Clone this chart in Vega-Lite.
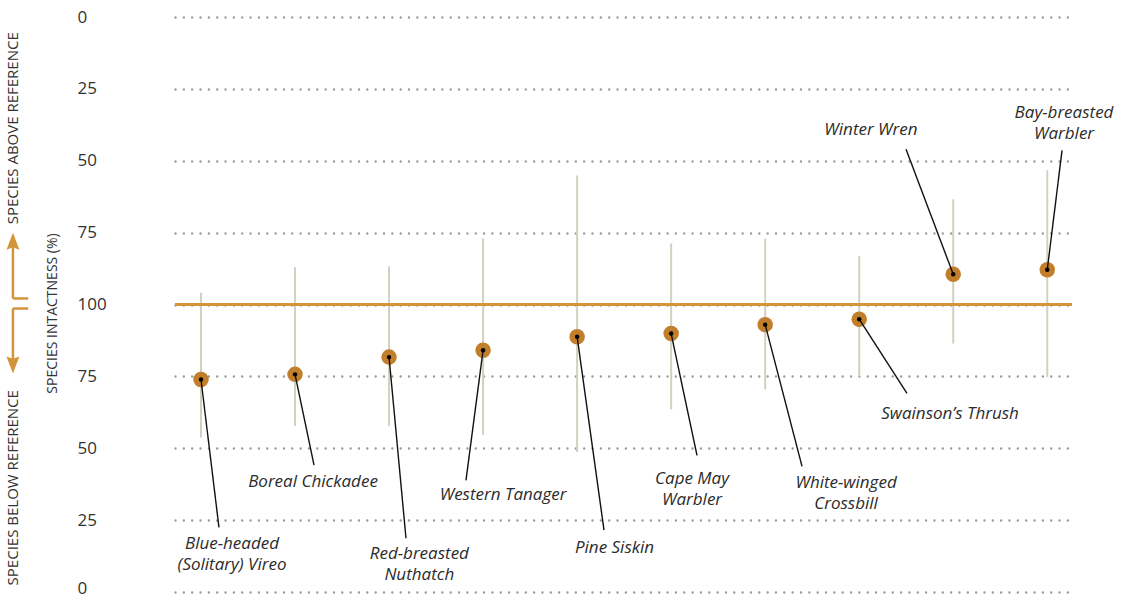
{
  "$schema": "https://vega.github.io/schema/vega-lite/v6.json",
  "width": 897,
  "height": 575,
  "autosize": {"type": "none"},
  "padding": {"left": 175, "top": 17, "right": 56, "bottom": 5},
  "background": "white",
  "config": {"view": {"stroke": null}, "font": "Open Sans"},
  "datasets": {
    "birds": [
      {"species": "Blue-headed (Solitary) Vireo", "label": "Blue-headed\n(Solitary) Vireo", "rank": 1, "intactness": 73.9, "lower": 53.7, "upper": 104.1, "lineRank": 1.191, "lineValue": 22.5, "labelRank": 1.33, "labelValue": 15.1},
      {"species": "Boreal Chickadee", "label": "Boreal Chickadee", "rank": 2, "intactness": 75.7, "lower": 57.7, "upper": 113.0, "lineRank": 2.202, "lineValue": 44.1, "labelRank": 2.191, "labelValue": 36.5},
      {"species": "Red-breasted Nuthatch", "label": "Red-breasted\nNuthatch", "rank": 3, "intactness": 81.7, "lower": 57.7, "upper": 113.3, "lineRank": 3.18, "lineValue": 18.7, "labelRank": 3.322, "labelValue": 11.6},
      {"species": "Western Tanager", "label": "Western Tanager", "rank": 4, "intactness": 84.1, "lower": 54.6, "upper": 123.0, "lineRank": 3.818, "lineValue": 38.8, "labelRank": 4.212, "labelValue": 31.9},
      {"species": "Pine Siskin", "label": "Pine Siskin", "rank": 5, "intactness": 88.8, "lower": 48.7, "upper": 144.9, "lineRank": 5.286, "lineValue": 21.5, "labelRank": 5.398, "labelValue": 13.7},
      {"species": "Cape May Warbler", "label": "Cape May\nWarbler", "rank": 6, "intactness": 89.9, "lower": 63.5, "upper": 121.2, "lineRank": 6.275, "lineValue": 47.5, "labelRank": 6.222, "labelValue": 37.7},
      {"species": "White-winged Crossbill", "label": "White-winged\nCrossbill", "rank": 7, "intactness": 93.0, "lower": 70.5, "upper": 122.9, "lineRank": 7.392, "lineValue": 43.7, "labelRank": 7.86, "labelValue": 36.1},
      {"species": "Swainson’s Thrush", "label": "Swainson’s Thrush", "rank": 8, "intactness": 94.9, "lower": 75.0, "upper": 116.9, "lineRank": 8.508, "lineValue": 69.1, "labelRank": 8.966, "labelValue": 60.3},
      {"species": "Winter Wren", "label": "Winter Wren", "rank": 9, "intactness": 110.5, "lower": 86.4, "upper": 136.6, "lineRank": 8.498, "lineValue": 154.0, "labelRank": 8.125, "labelValue": 158.9},
      {"species": "Bay-breasted Warbler", "label": "Bay-breasted\nWarbler", "rank": 10, "intactness": 112.1, "lower": 74.8, "upper": 146.7, "lineRank": 10.157, "lineValue": 153.6, "labelRank": 10.178, "labelValue": 164.7}
    ],
    "arrowStems": [
      {"rank": -1.0, "value": 102.1, "rank2": -1.0, "value2": 121.0},
      {"rank": -1.0, "value": 102.1, "rank2": -0.837, "value2": 102.1},
      {"rank": -1.0, "value": 98.6, "rank2": -1.0, "value2": 80.0},
      {"rank": -1.0, "value": 98.6, "rank2": -0.837, "value2": 98.6}
    ],
    "arrowHeads": [
      {"direction": "up", "rank": -1.0, "value": 122.0},
      {"direction": "down", "rank": -1.0, "value": 79.0}
    ],
    "sideNotes": [
      {"text": "SPECIES ABOVE REFERENCE", "rank": -1.0, "value": 127.9},
      {"text": "SPECIES BELOW REFERENCE", "rank": -1.0, "value": 2.3}
    ]
  },
  "layer": [
    {
      "data": {"name": "birds"},
      "mark": {"type": "rule", "color": "#d3d0c1", "strokeWidth": 2},
      "encoding": {
        "x": {"field": "rank", "type": "quantitative", "scale": {"domain": [0.7235, 10.263], "nice": false, "zero": false}, "axis": null},
        "y": {
          "field": "lower", "type": "quantitative",
          "scale": {"domain": [0, 200], "nice": false, "zero": false},
          "axis": {
            "values": [0, 25, 50, 75, 100, 125, 150, 175, 200],
            "labelExpr": "datum.value > 100 ? 200 - datum.value : datum.value",
            "grid": true,
            "gridColor": "#9b9b9b",
            "gridDash": [0.01, 8.33],
            "gridCap": "round",
            "gridWidth": 2.4,
            "domain": false,
            "ticks": false,
            "labelAlign": "left",
            "labelBaseline": "middle",
            "labelPadding": 98,
            "labelOffset": {"condition": {"test": "datum.value == 0", "value": -4}, "value": 0},
            "labelFont": "Open Sans",
            "labelFontSize": 17,
            "labelColor": "#333333",
            "labelBound": false,
            "title": "SPECIES INTACTNESS (%)",
            "titleFont": "Open Sans",
            "titleFontSize": 14,
            "titleFontWeight": "normal",
            "titleColor": "#333333",
            "titleAngle": -90,
            "titleAlign": "center",
            "titleBaseline": "middle",
            "titleX": -122.5,
            "titleY": 296
          }
        },
        "y2": {"field": "upper"}
      }
    },
    {
      "data": {"values": [{"reference": 100}]},
      "mark": {"type": "rule", "color": "#d3943a", "strokeWidth": 3},
      "encoding": {
        "y": {"field": "reference", "type": "quantitative"}
      }
    },
    {
      "data": {"name": "birds"},
      "mark": {"type": "point", "filled": true, "shape": "circle", "color": "#c27f2b", "opacity": 1, "size": 240},
      "encoding": {
        "x": {"field": "rank", "type": "quantitative"},
        "y": {"field": "intactness", "type": "quantitative"}
      }
    },
    {
      "data": {"name": "birds"},
      "mark": {"type": "rule", "color": "#111111", "strokeWidth": 1.4},
      "encoding": {
        "x": {"field": "rank", "type": "quantitative"},
        "y": {"field": "intactness", "type": "quantitative"},
        "x2": {"field": "lineRank"},
        "y2": {"field": "lineValue"}
      }
    },
    {
      "data": {"name": "birds"},
      "mark": {"type": "point", "filled": true, "shape": "circle", "color": "#000000", "opacity": 1, "size": 20},
      "encoding": {
        "x": {"field": "rank", "type": "quantitative"},
        "y": {"field": "intactness", "type": "quantitative"}
      }
    },
    {
      "data": {"name": "birds"},
      "mark": {"type": "text", "font": "Open Sans", "fontStyle": "italic", "fontWeight": "normal", "fontSize": 17, "color": "#2b2b2b", "align": "center", "baseline": "alphabetic", "lineBreak": "\n", "lineHeight": 21},
      "encoding": {
        "x": {"field": "labelRank", "type": "quantitative"},
        "y": {"field": "labelValue", "type": "quantitative"},
        "text": {"field": "label"}
      }
    },
    {
      "data": {"name": "arrowStems"},
      "mark": {"type": "rule", "color": "#d3943a", "strokeWidth": 2.5},
      "encoding": {
        "x": {"field": "rank", "type": "quantitative"},
        "y": {"field": "value", "type": "quantitative"},
        "x2": {"field": "rank2"},
        "y2": {"field": "value2"}
      }
    },
    {
      "data": {"name": "arrowHeads"},
      "mark": {"type": "point", "filled": true, "color": "#d3943a", "opacity": 1, "size": 289},
      "encoding": {
        "x": {"field": "rank", "type": "quantitative"},
        "y": {"field": "value", "type": "quantitative"},
        "shape": {
          "field": "direction", "type": "nominal", "legend": null,
          "scale": {"domain": ["up", "down"], "range": ["M0,-1L0.76,1L0,0.72L-0.76,1Z", "M0,1L0.76,-1L0,-0.72L-0.76,-1Z"]}
        }
      }
    },
    {
      "data": {"name": "sideNotes"},
      "mark": {"type": "text", "font": "Open Sans", "fontSize": 15, "color": "#333333", "angle": 270, "align": "left", "baseline": "middle"},
      "encoding": {
        "x": {"field": "rank", "type": "quantitative"},
        "y": {"field": "value", "type": "quantitative"},
        "text": {"field": "text"}
      }
    }
  ]
}
